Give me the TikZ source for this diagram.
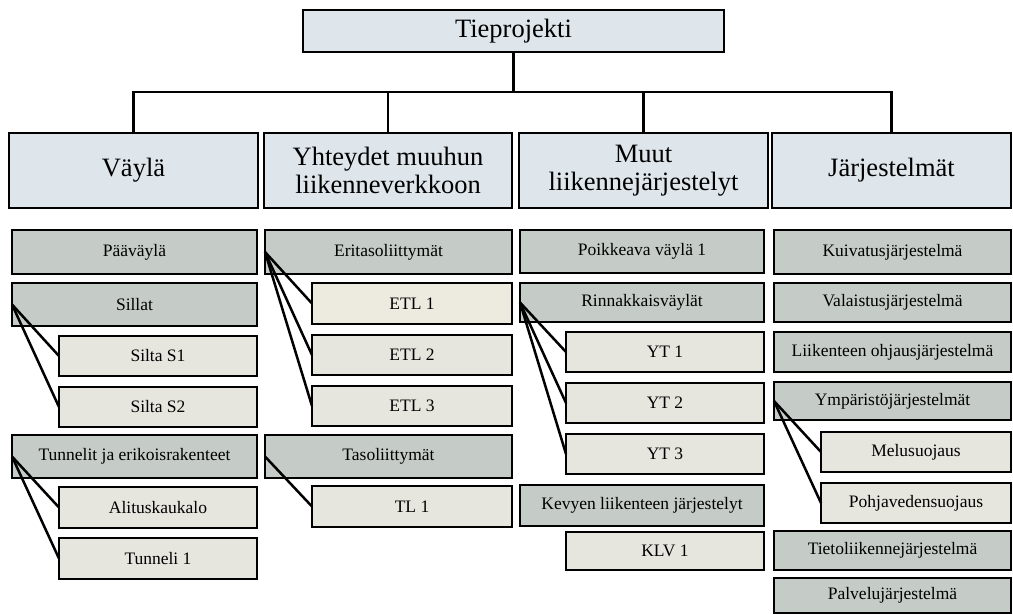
\documentclass[tikz,border=0pt]{standalone}
\usepackage{fontspec}
\setmainfont{Liberation Serif}
\usetikzlibrary{positioning}
\definecolor{headblue}{HTML}{DEE6EC}
\definecolor{grpgray}{HTML}{C5CCC8}
\definecolor{itmgray}{HTML}{E6E6DF}
\definecolor{itmcream}{HTML}{EDEAE0}
\begin{document}
\begin{tikzpicture}[x=1pt,y=1pt]
    \tikzset{
      box/.style = {draw, line width=2.9pt, inner sep=0pt, outer sep=0pt, anchor=north west, align=center},
      hdr/.style = {box, fill=headblue, minimum height=75pt, font=\fontsize{26.5}{28.5}\selectfont},
      grp/.style = {box, fill=grpgray, font=\fontsize{17.5}{20}\selectfont},
      itm/.style = {box, fill=itmgray, font=\fontsize{17.5}{20}\selectfont},
      link/.style = {line width=2.5pt},
    }
    \useasboundingbox (0,0) rectangle (1013,-615);

    % top and headers
    \node[hdr, minimum width=421pt, minimum height=42pt] (tp) at (303,-10) {Tieprojekti};
    \node[hdr, minimum width=249pt] (vayla) at (9,-133) {Väylä};
    \node[hdr, minimum width=248pt] (yhteydet) at (264,-133) {Yhteydet muuhun\\liikenneverkkoon};
    \node[hdr, minimum width=249pt] (muut) at (519,-133) {Muut\\liikennejärjestelyt};
    \node[hdr, minimum width=239pt] (jarj) at (772,-133) {Järjestelmät};

    \coordinate (bus) at (0,-92);
    \foreach \h in {vayla,yhteydet,muut,jarj}
        \draw[link] (tp.south) -- (tp.south |- bus) -| (\h.north);

    % Vayla
    \node[grp, minimum width=245pt, minimum height=44pt] (v1) at (12,-230) {Pääväylä};
    \node[grp, minimum width=245pt, minimum height=43pt] (v2) at (12,-283) {Sillat};
    \node[itm, minimum width=198pt, minimum height=40pt] (v2a) at (59,-336) {Silta S1};
    \node[itm, minimum width=198pt, minimum height=40pt] (v2b) at (59,-387) {Silta S2};
    \node[grp, minimum width=245pt, minimum height=43pt] (v3) at (12,-435) {Tunnelit ja erikoisrakenteet};
    \node[itm, minimum width=198pt, minimum height=41pt] (v3a) at (59,-487) {Alituskaukalo};
    \node[itm, minimum width=198pt, minimum height=41pt] (v3b) at (59,-538) {Tunneli 1};

    % Yhteydet
    \node[grp, minimum width=247pt, minimum height=44pt] (y1) at (265,-230) {Eritasoliittymät};
    \node[itm, fill=itmcream, minimum width=200pt, minimum height=41pt] (y1a) at (312,-283) {ETL 1};
    \node[itm, minimum width=200pt, minimum height=40pt] (y1b) at (312,-335) {ETL 2};
    \node[itm, minimum width=200pt, minimum height=40pt] (y1c) at (312,-386) {ETL 3};
    \node[grp, minimum width=247pt, minimum height=43pt] (y2) at (265,-435) {Tasoliittymät};
    \node[itm, minimum width=200pt, minimum height=41pt] (y2a) at (312,-486) {TL 1};

    % Muut
    \node[grp, minimum width=244pt, minimum height=43pt] (m1) at (520,-230) {Poikkeava väylä 1};
    \node[grp, minimum width=244pt, minimum height=39pt] (m2) at (520,-283) {Rinnakkaisväylät};
    \node[itm, minimum width=198pt, minimum height=40pt] (m2a) at (566,-332) {YT 1};
    \node[itm, minimum width=198pt, minimum height=40pt] (m2b) at (566,-383) {YT 2};
    \node[itm, minimum width=198pt, minimum height=40pt] (m2c) at (566,-434) {YT 3};
    \node[grp, minimum width=244pt, minimum height=41pt] (m3) at (520,-485) {Kevyen liikenteen järjestelyt};
    \node[itm, minimum width=198pt, minimum height=38pt] (m3a) at (566,-532) {KLV 1};

    % Jarjestelmat
    \node[grp, minimum width=237pt, minimum height=44pt] (j1) at (774,-230) {Kuivatusjärjestelmä};
    \node[grp, minimum width=237pt, minimum height=39pt] (j2) at (774,-283) {Valaistusjärjestelmä};
    \node[grp, minimum width=237pt, minimum height=40pt] (j3) at (774,-332) {Liikenteen ohjausjärjestelmä};
    \node[grp, minimum width=237pt, minimum height=38pt] (j4) at (774,-382) {Ympäristöjärjestelmät};
    \node[itm, minimum width=190pt, minimum height=40pt] (j4a) at (821,-432) {Melusuojaus};
    \node[itm, minimum width=190pt, minimum height=40pt] (j4b) at (821,-483) {Pohjavedensuojaus};
    \node[grp, minimum width=237pt, minimum height=39pt] (j5) at (774,-531) {Tietoliikennejärjestelmä};
    \node[grp, minimum width=237pt, minimum height=35pt] (j6) at (774,-578) {Palvelujärjestelmä};

    \foreach \p/\c in {v2/v2a, v2/v2b, v3/v3a, v3/v3b, y1/y1a, y1/y1b, y1/y1c,
                       y2/y2a, m2/m2a, m2/m2b, m2/m2c, j4/j4a, j4/j4b}
        \draw[link] (\p.west) -- (\c.west);
\end{tikzpicture}
\end{document}
